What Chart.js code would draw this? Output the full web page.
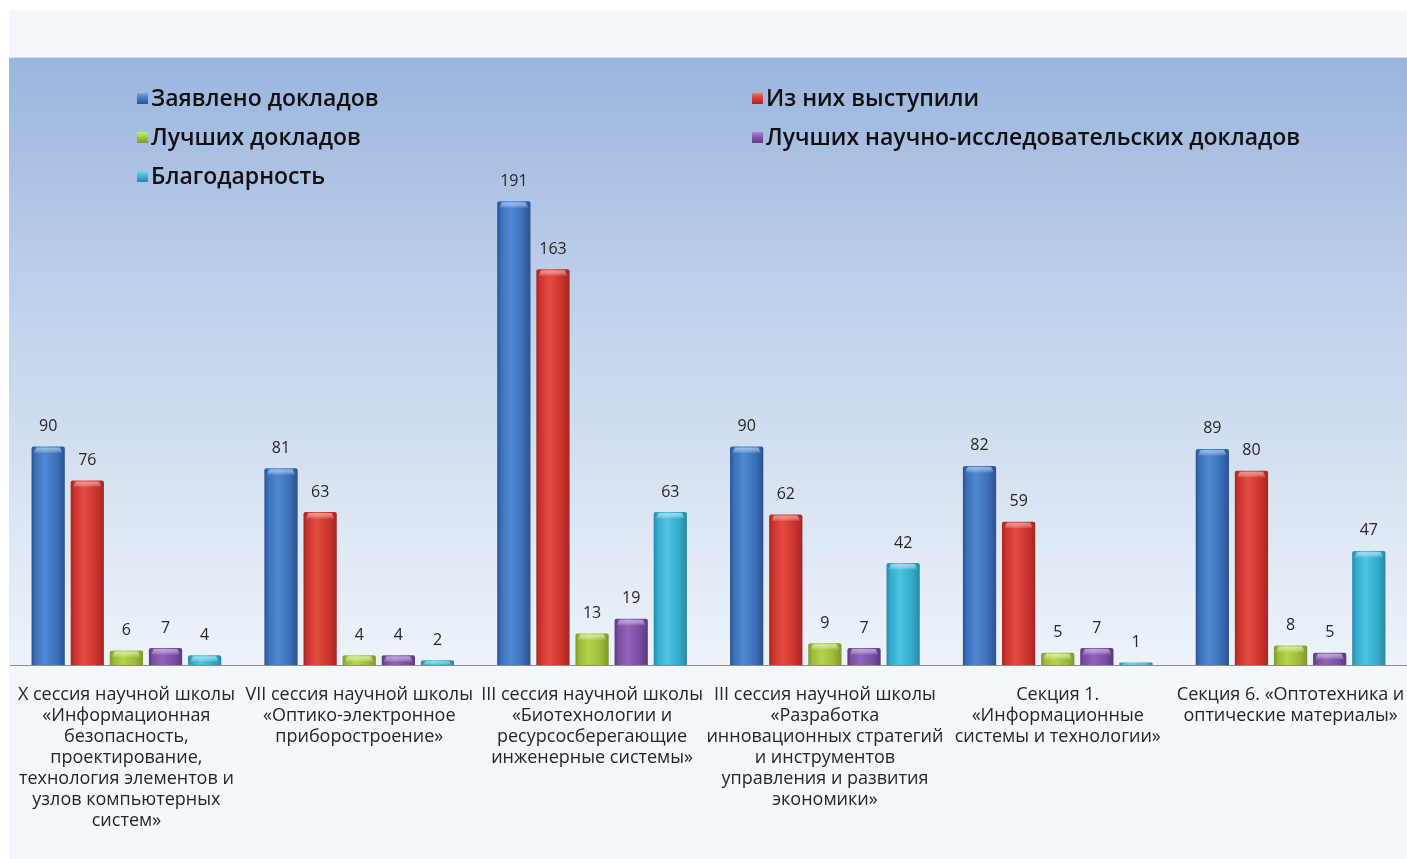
<!DOCTYPE html>
<html>
<head>
<meta charset="utf-8">
<script src="https://cdn.jsdelivr.net/npm/chart.js@4/dist/chart.umd.min.js"></script>
<style>
  html, body { margin: 0; padding: 0; background: #ffffff; }
  #wrap { width: 1407px; height: 859px; position: relative; }
</style>
</head>
<body>
<div id="wrap"><canvas id="c" width="1407" height="859"></canvas></div>
<script>
// ---- data ----
const categories = [
  ["X сессия научной школы", "«Информационная", "безопасность,", "проектирование,", "технология элементов и", "узлов компьютерных", "систем»"],
  ["VII сессия научной школы", "«Оптико-электронное", "приборостроение»"],
  ["III сессия научной школы", "«Биотехнологии и", "ресурсосберегающие", "инженерные системы»"],
  ["III сессия научной школы", "«Разработка", "инновационных стратегий", "и инструментов", "управления и развития", "экономики»"],
  ["Секция 1.", "«Информационные", "системы и технологии»"],
  ["Секция 6. «Оптотехника и", "оптические материалы»"]
];
const seriesNames = [
  "Заявлено докладов",
  "Из них выступили",
  "Лучших докладов",
  "Лучших научно-исследовательских докладов",
  "Благодарность"
];
const declared   = [90, 81, 191, 90, 82, 89];
const presented  = [76, 63, 163, 62, 59, 80];
const best       = [6, 4, 13, 9, 5, 8];
const bestResearch = [7, 4, 19, 7, 7, 5];
const thanks     = [4, 2, 63, 42, 1, 47];

// ---- styles ----
const palette = [
  { base: "#3d70ba", light: "#5088d2", dark: "#2a5290", hi: "#86b9ea" },
  { base: "#cc332d", light: "#e34c42", dark: "#a52722", hi: "#f08a80" },
  { base: "#9cbc3a", light: "#b4d44c", dark: "#7b992a", hi: "#d8ee8a" },
  { base: "#7a4ea1", light: "#9064ba", dark: "#5c397f", hi: "#b99ad6" },
  { base: "#35aacb", light: "#4cc4e2", dark: "#2789a6", hi: "#8fdcf0" }
];
const FONT = "'Open Sans', 'Noto Sans', sans-serif";

const seriesValues = [declared, presented, best, bestResearch, thanks];

const bgPlugin = {
  id: "bg",
  beforeDraw(chart) {
    const ctx = chart.ctx, a = chart.chartArea;
    ctx.save();
    ctx.fillStyle = "#f4f8fc";
    ctx.fillRect(9, 10, chart.width - 9, chart.height - 10);
    const g = ctx.createLinearGradient(0, a.top, 0, a.bottom);
    g.addColorStop(0, "#9bb5de");
    g.addColorStop(0.45, "#c4d4ec");
    g.addColorStop(1, "#eef3fa");
    ctx.fillStyle = g;
    ctx.fillRect(9, a.top, chart.width - 9, a.bottom - a.top);
    ctx.fillStyle = "#d4dce8";
    ctx.fillRect(9, a.top - 1, chart.width - 9, 1);
    ctx.restore();
  }
};

const barStylePlugin = {
  id: "barStyle",
  beforeDatasetsDraw(chart) {
    const ctx = chart.ctx;
    chart.data.datasets.forEach((ds, i) => {
      const p = palette[i];
      chart.getDatasetMeta(i).data.forEach(el => {
        const x = el.x, w = el.width;
        const g = ctx.createLinearGradient(x - w / 2, 0, x + w / 2, 0);
        g.addColorStop(0, p.dark);
        g.addColorStop(0.12, p.base);
        g.addColorStop(0.4, p.light);
        g.addColorStop(0.75, p.base);
        g.addColorStop(1, p.dark);
        el.options.backgroundColor = g;
      });
    });
  },
  afterDatasetsDraw(chart) {
    const ctx = chart.ctx;
    ctx.save();
    chart.data.datasets.forEach((ds, i) => {
      const p = palette[i];
      chart.getDatasetMeta(i).data.forEach((el, j) => {
        const x = el.x, w = el.width, top = el.y, bottom = el.base;
        const h = Math.min(7, bottom - top);
        if (h > 0) {
          const g = ctx.createLinearGradient(0, top, 0, top + h);
          g.addColorStop(0, p.hi);
          g.addColorStop(1, "rgba(255,255,255,0)");
          ctx.fillStyle = g;
          ctx.beginPath();
          ctx.moveTo(x - w / 2 + 2, top + h);
          ctx.lineTo(x - w / 2 + 5, top + 1);
          ctx.lineTo(x + w / 2 - 5, top + 1);
          ctx.lineTo(x + w / 2 - 2, top + h);
          ctx.closePath();
          ctx.fill();
        }
        // value label
        ctx.fillStyle = "#262626";
        ctx.font = "16px " + FONT;
        ctx.textAlign = "center";
        ctx.textBaseline = "middle";
        ctx.fillText(String(ds.data[j]), x, top - 20);
      });
    });
    ctx.restore();
  },
  afterDraw(chart) {
    const ctx = chart.ctx;
    const pos = [
      [137, 98], [752, 98],
      [137, 137], [752, 137],
      [137, 176]
    ];
    ctx.save();
    ctx.font = "600 23px " + FONT;
    ctx.textBaseline = "middle";
    ctx.textAlign = "left";
    chart.data.datasets.forEach((ds, i) => {
      const [x, y] = pos[i];
      const p = palette[i];
      const g = ctx.createLinearGradient(x, y - 6, x, y + 6);
      g.addColorStop(0, p.hi);
      g.addColorStop(0.35, p.light);
      g.addColorStop(1, p.dark);
      ctx.fillStyle = g;
      ctx.fillRect(x, y - 5, 11, 11);
      ctx.fillStyle = "#111111";
      ctx.fillText(ds.label, x + 14, y + 1);
    });
    ctx.restore();
  }
};

const datasets = seriesNames.map((name, i) => ({
  label: name,
  data: seriesValues[i],
  backgroundColor: (c) => palette[c.datasetIndex].base,
  borderWidth: 0,
  borderRadius: { topLeft: 2, topRight: 2 },
  borderSkipped: "bottom",
  categoryPercentage: 0.84,
  barPercentage: 0.85
}));

new Chart(document.getElementById("c"), {
  type: "bar",
  data: { labels: categories, datasets },
  options: {
    responsive: false,
    animation: false,
    devicePixelRatio: 1,
    layout: { padding: { left: 10, right: 0, top: 58, bottom: 0 } },
    plugins: { legend: { display: false }, tooltip: { enabled: false } },
    scales: {
      x: {
        grid: { display: false },
        border: { display: true, color: "#8c8c8c", width: 1 },
        ticks: {
          autoSkip: false,
          maxRotation: 0,
          minRotation: 0,
          padding: 11,
          color: "#262626",
          font: { family: FONT, size: 18, lineHeight: 21 / 18 }
        },
        afterFit(scale) {
          scale.height = 194;
          scale.paddingLeft = 0;
          scale.paddingRight = 0;
        }
      },
      y: { display: false, min: 0, max: 250 }
    }
  },
  plugins: [bgPlugin, barStylePlugin]
});
</script>
</body>
</html>
